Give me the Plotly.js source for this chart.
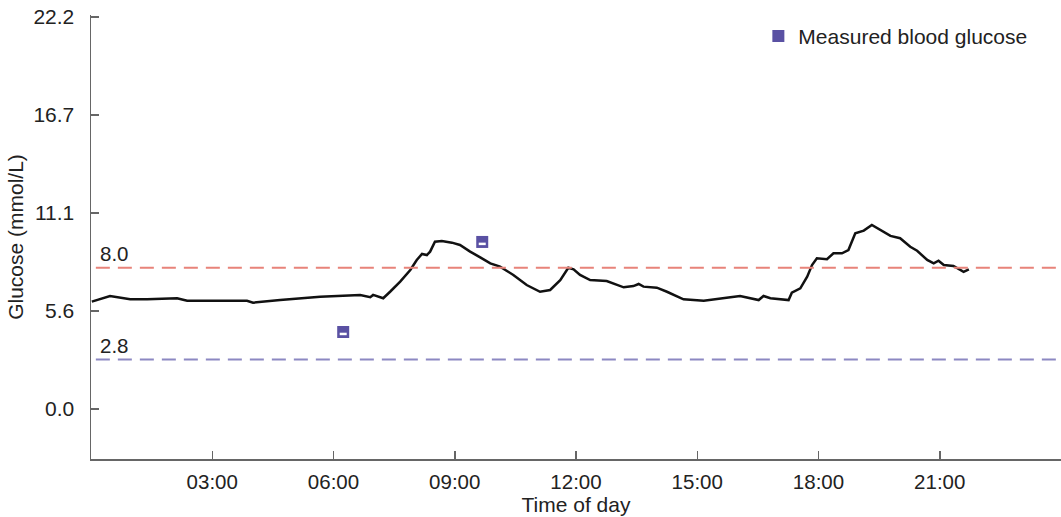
<!DOCTYPE html>
<html>
<head>
<meta charset="utf-8">
<script src="https://cdn.plot.ly/plotly-3.0.1.min.js"></script>
<style>html,body{margin:0;padding:0;background:#fff;}#chart{width:1061px;height:517px;}</style>
</head>
<body>
<div id="chart"></div>
<script>
// CGM trace: time of day (hours) and glucose (mmol/L)
const cgmHours = [0.02,0.47,0.97,1.39,2.13,2.38,3.86,4.01,4.68,5.67,6.66,6.91,6.98,7.23,
  7.40,7.65,7.90,8.06,8.19,8.31,8.39,8.51,8.68,8.93,9.13,9.38,9.63,9.88,10.12,10.45,10.78,11.11,11.36,11.61,11.81,11.94,12.10,12.35,12.76,12.93,13.18,13.42,13.55,13.67,14.00,
  14.25,14.41,14.66,15.16,15.49,15.82,16.06,16.31,16.52,16.64,16.81,17.26,17.34,17.55,17.72,17.84,17.96,18.21,18.37,18.58,18.74,18.91,19.12,19.32,19.53,19.78,20.02,20.27,20.44,20.69,20.85,20.97,21.10,21.34,21.59,21.72];
const cgmGlucose = [6.08,6.40,6.21,6.21,6.27,6.13,6.13,6.02,6.17,6.36,6.46,6.33,6.46,6.27,
  6.64,7.21,7.87,8.44,8.78,8.72,8.91,9.47,9.51,9.42,9.29,8.91,8.59,8.25,8.06,7.59,7.02,6.64,6.74,7.30,8.00,7.91,7.59,7.30,7.25,7.12,6.89,6.96,7.08,6.93,6.87,
  6.64,6.46,6.21,6.13,6.21,6.33,6.40,6.27,6.17,6.40,6.27,6.17,6.59,6.83,7.49,8.15,8.53,8.48,8.82,8.82,9.00,9.95,10.10,10.42,10.14,9.80,9.67,9.19,8.96,8.44,8.25,8.40,8.15,8.10,7.77,7.91];

// Measured blood glucose (finger-stick)
const bgHours = [6.24, 9.68];
const bgGlucose = [4.36, 9.46];

// Thresholds
const upperLimit = 8.0;
const lowerLimit = 2.8;

// Axis ticks
const yTickVals = [0, 5.55, 11.1, 16.65, 22.2];
const yTickText = ['0.0', '5.6', '11.1', '16.7', '22.2'];
const xTickVals = [3, 6, 9, 12, 15, 18, 21];
const xTickText = ['03:00', '06:00', '09:00', '12:00', '15:00', '18:00', '21:00'];

const font = 'Liberation Sans, Arial, sans-serif';
const iconOffset = 0.11; // white label stripe inside the marker icon

const traces = [
  {
    x: cgmHours, y: cgmGlucose, type: 'scatter', mode: 'lines',
    line: {color: '#111', width: 2.5}, showlegend: false, hoverinfo: 'x+y'
  },
  {
    x: bgHours, y: bgGlucose, type: 'scatter', mode: 'markers',
    name: 'Measured blood glucose',
    marker: {symbol: 'square', size: 12, color: '#5a51a3'}
  },
  {
    x: bgHours, y: bgGlucose.map(v => v - iconOffset), type: 'scatter', mode: 'markers',
    showlegend: false, hoverinfo: 'skip',
    marker: {symbol: 'line-ew', size: 5, line: {color: '#ffffff', width: 2.5}}
  }
];

const layout = {
  width: 1061, height: 517,
  margin: {l: 91, r: 0, t: 15, b: 58},
  paper_bgcolor: '#fff', plot_bgcolor: '#fff',
  font: {family: font, size: 20.5, color: '#222'},
  xaxis: {
    range: [0, 24], tickvals: xTickVals, ticktext: xTickText,
    showgrid: false, zeroline: false, showline: true, linecolor: '#666', linewidth: 1.5,
    ticks: 'inside', ticklen: 8, tickcolor: '#666', tickwidth: 1.5,
    ticklabelstandoff: 4, tickfont: {size: 20.5},
    title: {text: 'Time of day', font: {size: 21, color: '#222'}, standoff: 4}
  },
  yaxis: {
    range: [-2.83, 22.31], tickvals: yTickVals, ticktext: yTickText,
    showgrid: false, zeroline: false, showline: true, linecolor: '#666', linewidth: 1.5,
    ticks: 'inside', ticklen: 8, tickcolor: '#666', tickwidth: 1.5,
    ticklabelstandoff: 11, tickfont: {size: 21},
    title: {text: 'Glucose (mmol/L)', font: {size: 21, color: '#222'}, standoff: 4}
  },
  shapes: [
    {type: 'line', xref: 'x', yref: 'y', x0: 0.12, x1: 24, y0: upperLimit, y1: upperLimit,
     line: {color: '#e8837a', width: 2, dash: '14px,8px'}},
    {type: 'line', xref: 'x', yref: 'y', x0: 0.12, x1: 24, y0: lowerLimit, y1: lowerLimit,
     line: {color: '#8c88c2', width: 2, dash: '14px,8px'}}
  ],
  annotations: [
    {x: 0.17, y: upperLimit, xref: 'x', yref: 'y', text: upperLimit.toFixed(1), showarrow: false,
     xanchor: 'left', yanchor: 'bottom', yshift: 1, font: {size: 20.5, color: '#222'}},
    {x: 0.17, y: lowerLimit, xref: 'x', yref: 'y', text: lowerLimit.toFixed(1), showarrow: false,
     xanchor: 'left', yanchor: 'bottom', yshift: 1, font: {size: 20.5, color: '#222'}}
  ],
  legend: {x: 0.688, y: 0.998, xanchor: 'left', yanchor: 'top', bgcolor: 'rgba(0,0,0,0)',
           font: {size: 21, color: '#222'}},
  showlegend: true
};

Plotly.newPlot('chart', traces, layout, {displayModeBar: false, staticPlot: true});
</script>
</body>
</html>
